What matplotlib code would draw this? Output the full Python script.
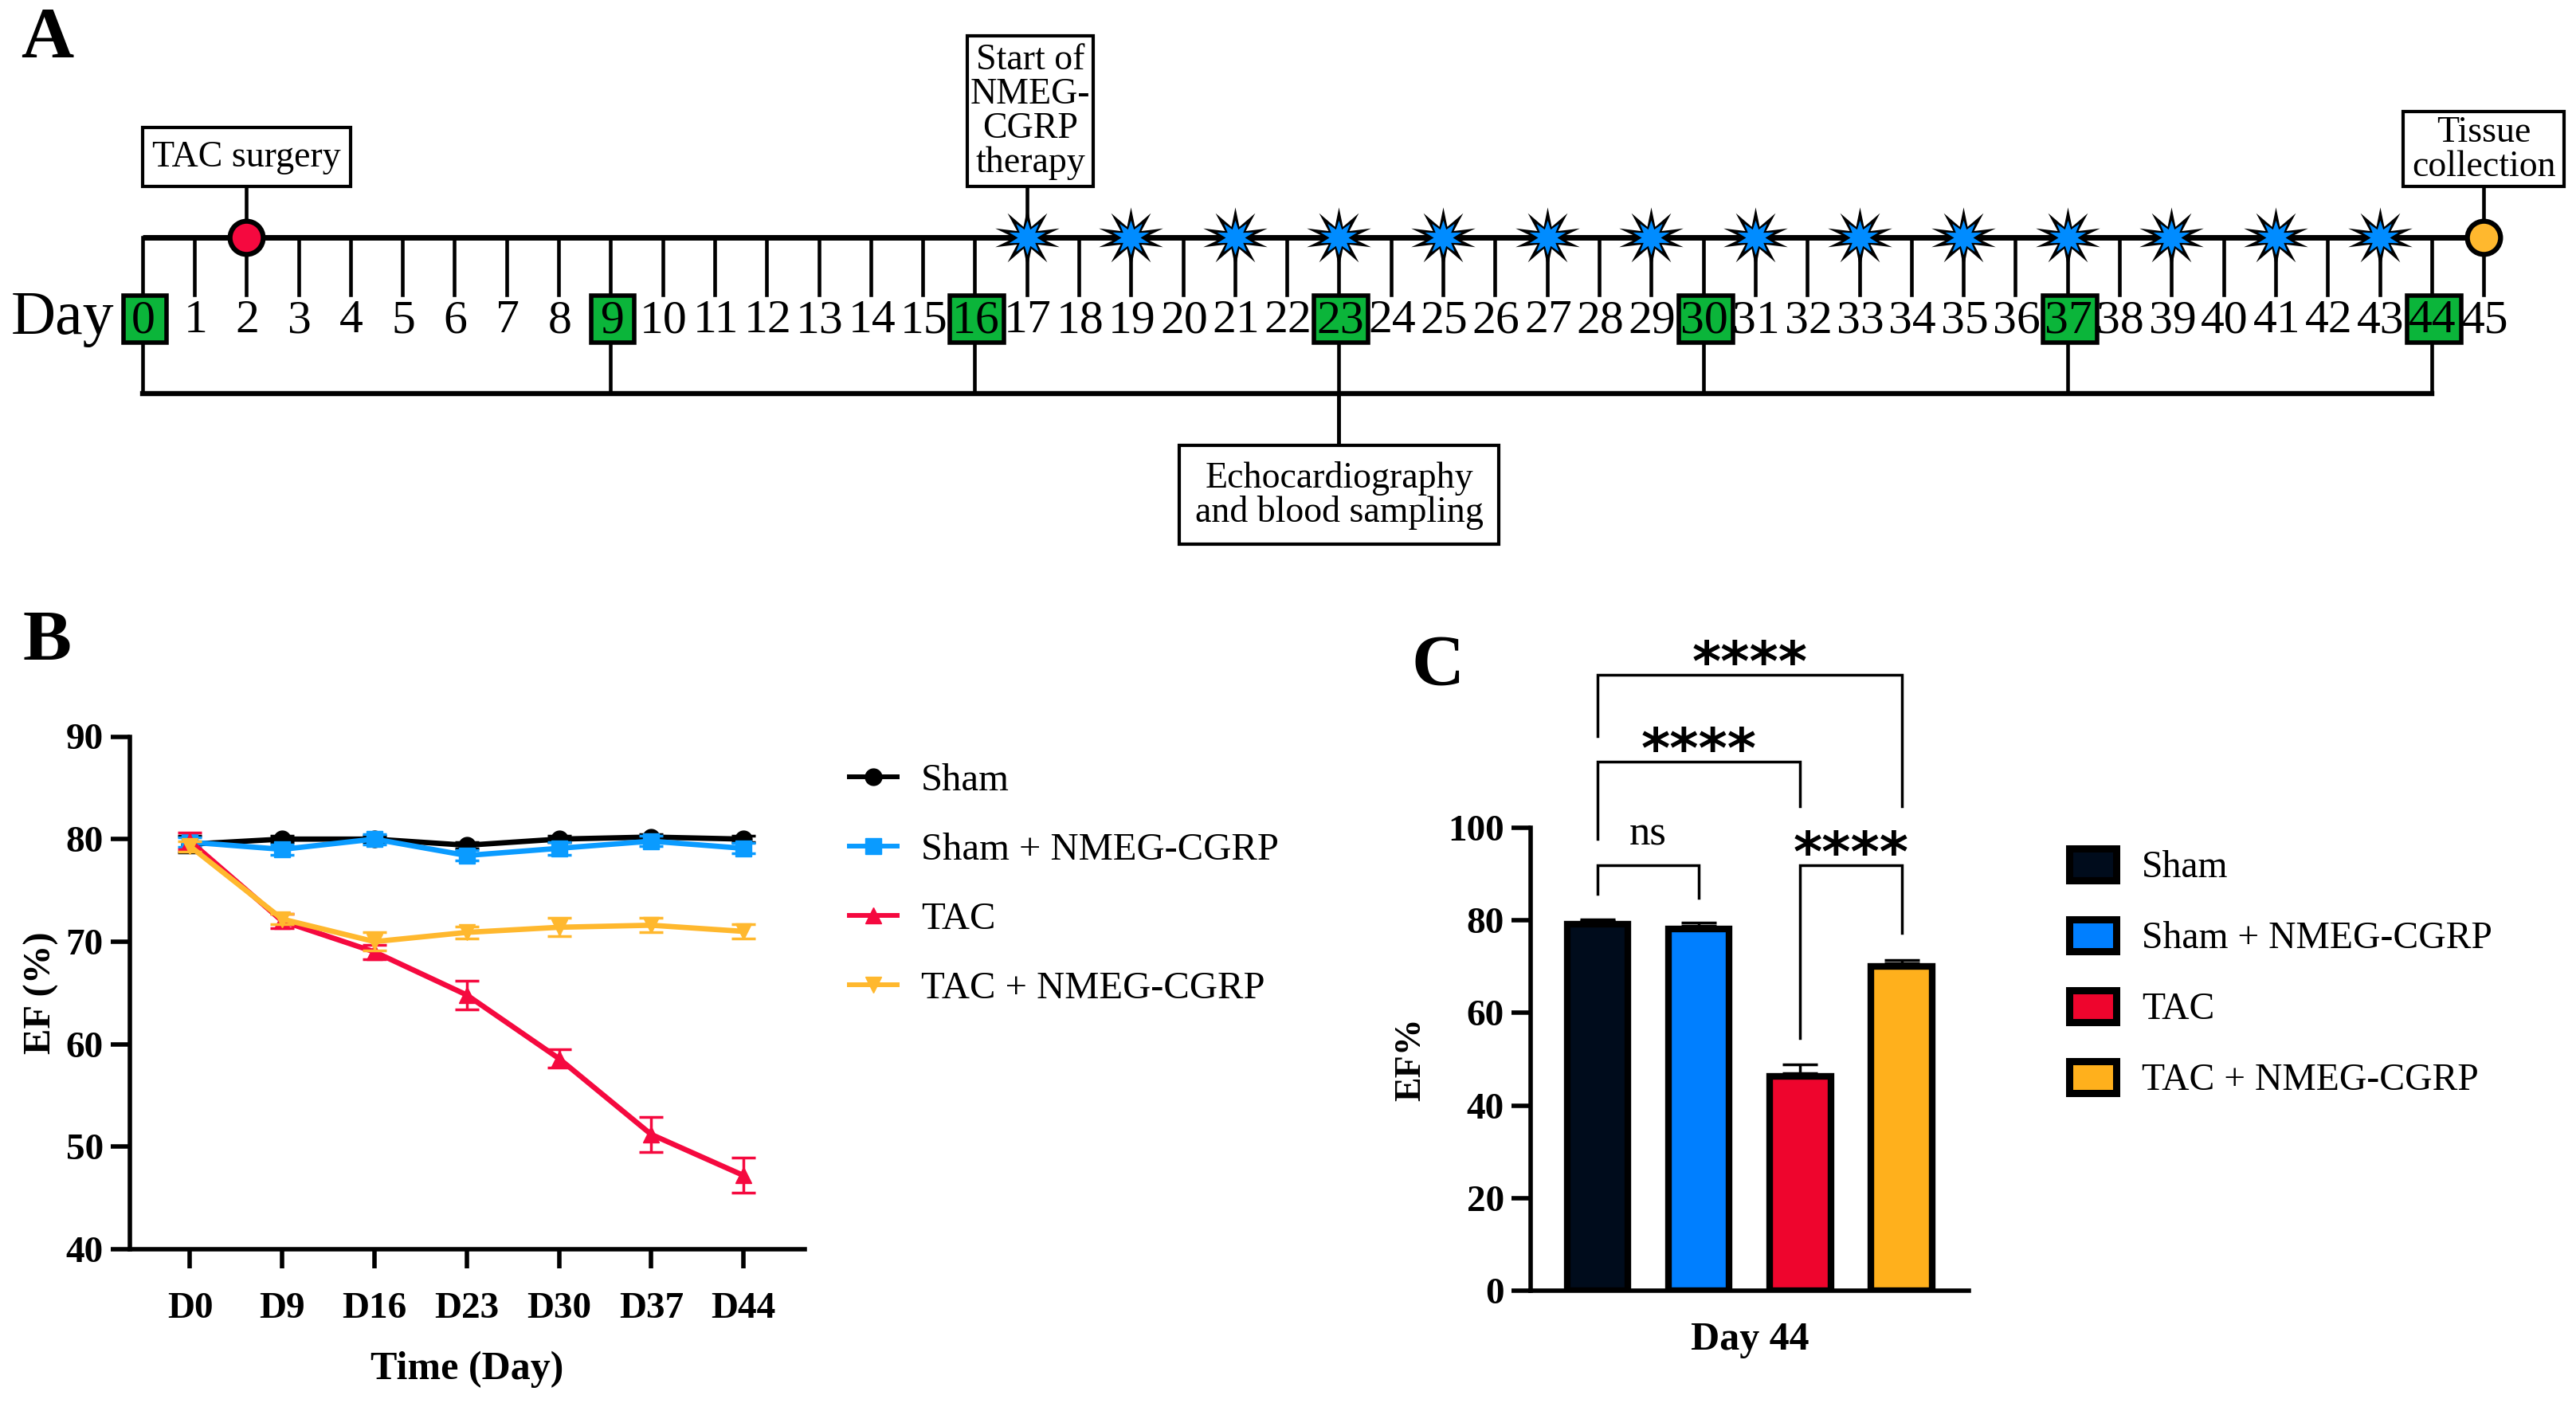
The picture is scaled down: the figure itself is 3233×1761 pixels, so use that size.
import matplotlib
matplotlib.use("Agg")
import matplotlib.pyplot as plt
from matplotlib.patches import Rectangle
from matplotlib.lines import Line2D
from matplotlib.path import Path
import numpy as np

plt.rcParams['font.family'] = ['Liberation Serif', 'DejaVu Serif']

W, H = 3233, 1761

days = list(range(46))
sample_days = [0, 9, 16, 23, 30, 37, 44]
therapy_days = list(range(17, 44, 2))

time_labels = ['D0', 'D9', 'D16', 'D23', 'D30', 'D37', 'D44']
groups = ['Sham', 'Sham + NMEG-CGRP', 'TAC', 'TAC + NMEG-CGRP']

sham = [79.5, 80.0, 80.0, 79.4, 80.0, 80.2, 80.0]
sham_err = [0.8, 0.3, 0.3, 0.3, 0.3, 0.3, 0.3]
sham_cgrp = [79.7, 79.0, 80.0, 78.4, 79.1, 79.8, 79.1]
sham_cgrp_err = [0.5, 0.5, 0.5, 0.5, 0.6, 0.5, 0.5]
tac = [79.8, 72.0, 69.0, 64.8, 58.6, 51.2, 47.2]
tac_err = [0.8, 0.7, 0.7, 1.4, 0.9, 1.7, 1.7]
tac_cgrp = [79.3, 72.2, 70.0, 70.9, 71.4, 71.6, 71.0]
tac_cgrp_err = [0.5, 0.5, 0.9, 0.6, 0.9, 0.7, 0.7]

day44_values = [79.8, 78.9, 47.0, 70.7]
day44_err = [0.4, 0.6, 1.9, 0.8]

# left x, right x, bar y, left leg end, right leg end, label
brackets = [
    (0, 3, 133, 119.8, 104.6, '****'),
    (0, 2, 114.3, 97.6, 104.6, '****'),
    (0, 1, 91.9, 85.7, 84.9, 'ns'),
    (2, 3, 91.9, 54.6, 77.3, '****'),
]

line_colors = ['#000000', '#0A9BFF', '#F5093F', '#FFB82E']
bar_colors = ['#000C1C', '#007FFF', '#EE052D', '#FFB01C']
markers = ['o', 's', '^', 'v']


def px_axes(left, right, top, bottom):
    return fig.add_axes([left / W, 1 - bottom / H, (right - left) / W, (bottom - top) / H])


def burst(inner, n=10):
    angles = np.linspace(0, 2 * np.pi, 2 * n, endpoint=False) + np.pi / 2
    radius = np.tile([1.0, inner], n)
    verts = np.column_stack([radius * np.cos(angles), 0.9 * radius * np.sin(angles)])
    return Path(np.vstack([verts, verts[0]]), closed=True)


fig = plt.figure(figsize=(W / 100, H / 100), dpi=100)

# ---- A: timeline, x in days, y in pixels
day_px = 65.3
ax_a = fig.add_axes([0, 0, 1, 1])
ax_a.set_xlim(-178.6 / day_px, (W - 178.6) / day_px)
ax_a.set_ylim(H, 0)
ax_a.axis('off')

ax_a.plot([0, 45], [298, 298], color='k', lw=5, solid_capstyle='butt')
for d in days:
    ax_a.plot([d, d], [298, 370], color='k', lw=3.3)
for d in sample_days:
    ax_a.plot([d, d], [432, 494], color='k', lw=3.3)
    w = 27 if d < 10 else 34
    ax_a.add_patch(Rectangle((d - (w - 3) / day_px, 371), 2 * w / day_px, 59, fc='#0BB53A', ec='k', lw=4, zorder=3))
ax_a.plot([0, 44], [494, 494], color='k', lw=4.6)
ax_a.plot([23, 23], [494, 560], color='k', lw=3.5)

for d in days:
    ax_a.text(d + 0.02, 403, str(d), ha='center', va='center', fontsize=43, zorder=4)
ax_a.text(-2.53, 400, 'Day', ha='left', va='center', fontsize=56)

ax_a.plot([2, 2], [234, 298], color='k', lw=3.3)
ax_a.plot([17, 17], [234, 298], color='k', lw=3.3)
ax_a.plot([45, 45], [234, 298], color='k', lw=3.3)
ax_a.plot([2], [298], 'o', ms=30, mfc='#F5093F', mec='k', mew=4.5, zorder=4)
ax_a.plot([45], [298], 'o', ms=30, mfc='#FFB82E', mec='k', mew=4.5, zorder=4)
ax_a.plot(therapy_days, [298] * len(therapy_days), ls='none', marker=burst(0.38), ms=58,
          mfc='k', mew=0, zorder=4)
ax_a.plot(therapy_days, [298] * len(therapy_days), ls='none', marker=burst(0.5), ms=33,
          mfc='#008CFF', mew=0, zorder=4)


def note(x0, x1, y0, y1, txt, size):
    ax_a.add_patch(Rectangle((x0, y0), x1 - x0, y1 - y0, fc='w', ec='k', lw=3, zorder=5))
    ax_a.text((x0 + x1) / 2, (y0 + y1) / 2 + 1, txt, ha='center', va='center', fontsize=size,
              linespacing=1.02, zorder=6)


note(0, 4.0, 160, 234, 'TAC surgery', 33)
note(15.86, 18.27, 45, 234, 'Start of\nNMEG-\nCGRP\ntherapy', 33)
note(43.45, 46.55, 140, 234, 'Tissue\ncollection', 33)
note(19.93, 26.07, 559, 683, 'Echocardiography\nand blood sampling', 33)

for label, x, y in [('A', 26, 50), ('B', 28, 807), ('C', 1771, 838)]:
    fig.text(x / W, 1 - y / H, label, fontsize=66, fontweight='bold', va='center')

# ---- B: EF over time
ax_b = px_axes(163, 1010, 924.5, 1568)
x = np.arange(len(time_labels))
series = [(sham, sham_err), (sham_cgrp, sham_cgrp_err), (tac, tac_err), (tac_cgrp, tac_cgrp_err)]
for (vals, errs), col, mk, z in zip(series, line_colors, markers, [2, 3, 4, 5]):
    ax_b.errorbar(x, vals, yerr=errs, color=col, marker=mk, ms=15, lw=4.8, capsize=11, capthick=2.5,
                  elinewidth=2.5, zorder=z, clip_on=False)
ax_b.set_xlim(-0.652, 6.665)
ax_b.set_ylim(40, 90)
ax_b.set_yticks(range(40, 91, 10))
ax_b.set_xticks(x)
ax_b.set_xticklabels(time_labels)
ax_b.set_xlabel('Time (Day)', fontsize=36, fontweight='bold', labelpad=23)
ax_b.set_ylabel('EF (%)', fontsize=35, fontweight='bold', labelpad=6)

handles_b = [Line2D([], [], color=c, marker=m, ms=15, lw=4.3) for c, m in zip(line_colors, markers)]
fig.legend(handles_b, groups, loc='upper left', bbox_to_anchor=(1066 / W, 1 - 958 / H),
           frameon=False, fontsize=35, handlelength=1.23, labelspacing=0.885, handletextpad=0.62,
           borderpad=0, borderaxespad=0)

# ---- C: day 44 bars
ax_c = px_axes(1921, 2470.5, 1039, 1620)
pos = np.arange(4)
edge_units = 0.7  # half the bar outline, so the outer edge sits on the value
ax_c.bar(pos, np.array(day44_values) - edge_units, width=0.6, color=bar_colors, edgecolor='k', lw=6, zorder=2)
ax_c.errorbar(pos, day44_values, yerr=[[0] * 4, day44_err], fmt='none', ecolor='k', elinewidth=2.5,
              capsize=16, capthick=2.5, zorder=1)
ax_c.set_xlim(-0.66, 3.66)
ax_c.set_ylim(0, 100)
ax_c.set_yticks(range(0, 101, 20))
ax_c.set_xticks([])
ax_c.set_xlabel('Day 44', fontsize=36, fontweight='bold', labelpad=28)
ax_c.set_ylabel('EF%', fontsize=33, fontweight='bold', labelpad=18)

for x0, x1, top, leg0, leg1, txt in brackets:
    ax_c.plot([x0, x0, x1, x1], [leg0, top, top, leg1], color='k', lw=2.5, clip_on=False, solid_joinstyle='miter')
    if txt == 'ns':
        ax_c.text((x0 + x1) / 2, top + 2.5, txt, ha='center', va='bottom', fontsize=38, clip_on=False)
    else:
        ax_c.text((x0 + x1) / 2, top - 1.2, txt, ha='center', va='baseline', fontsize=50, fontweight='bold',
                  family='DejaVu Sans', clip_on=False)

patches = [Rectangle((0, 0), 1, 1, fc=c, ec='k', lw=6.5) for c in bar_colors]
fig.legend(patches, groups, loc='upper left', bbox_to_anchor=(2597 / W, 1 - 1065 / H), frameon=False, fontsize=34.3,
           handlelength=1.24, handleheight=0.9, labelspacing=0.9, handletextpad=0.67, borderpad=0, borderaxespad=0)

for ax in (ax_b, ax_c):
    for side in ('top', 'right'):
        ax.spines[side].set_visible(False)
    for side in ('left', 'bottom'):
        ax.spines[side].set_linewidth(4)
    ax.tick_params(width=4, length=17, labelsize=34, pad=7)
    for t in ax.get_xticklabels() + ax.get_yticklabels():
        t.set_fontweight('bold')
    ax.patch.set_alpha(0)
ax_b.tick_params(axis='x', pad=22)

fig.savefig('out.png', dpi=100)
